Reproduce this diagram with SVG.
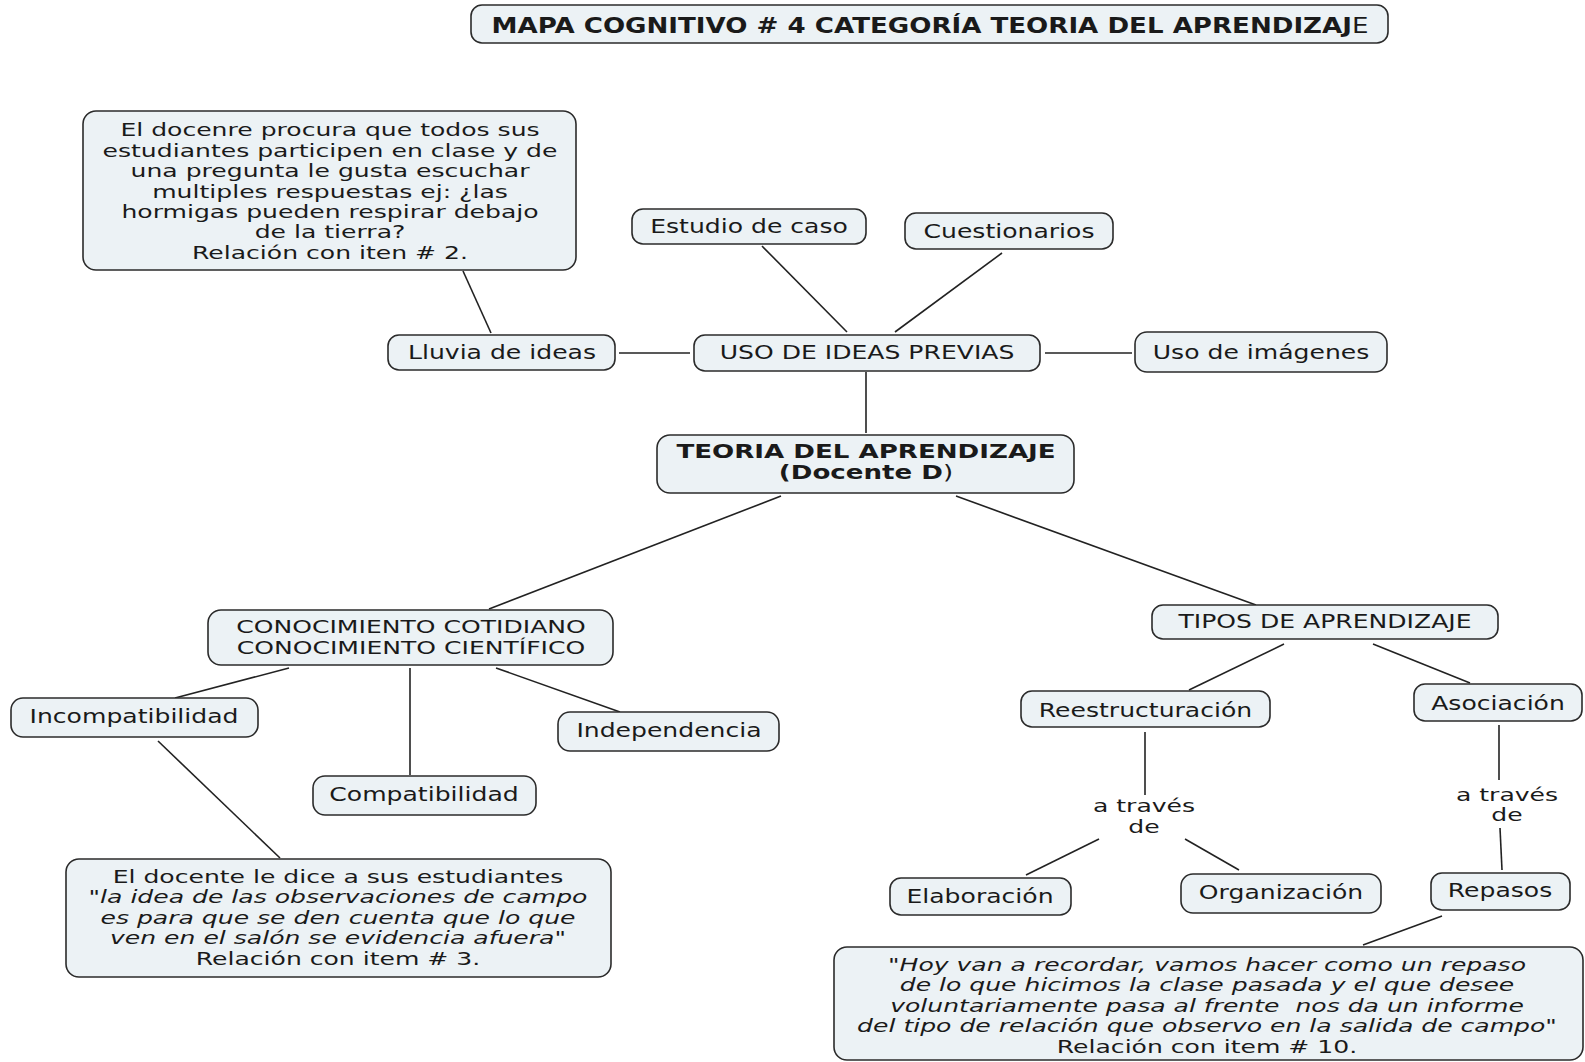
<svg xmlns="http://www.w3.org/2000/svg" width="1585" height="1062" viewBox="0 0 1585 1062">
  <style>
    .bg { fill: #ffffff; }
    .box { fill: #ecf2f5; stroke: #2b2b2b; stroke-width: 1.6; }
    .t { font-family: "DejaVu Sans", Verdana, sans-serif; font-size: 19.6px; fill: #1a1a1a; text-anchor: middle; }
    .m { font-size: 18.4px; }
    .b { font-weight: bold; font-size: 20.4px; }
    .bm { font-weight: bold; font-size: 19.2px; }
    .i { font-style: italic; }
    .r { font-weight: normal; }
    .links line { stroke: #222222; stroke-width: 1.6; }
  </style>

  <rect class="bg" x="0" y="0" width="1585" height="1062"/>

  <!-- connectors -->
  <g class="links" id="connectors">
    <line x1="463" y1="271" x2="491" y2="333"/>
    <line x1="619" y1="353" x2="690" y2="353"/>
    <line x1="1045" y1="353" x2="1132" y2="353"/>
    <line x1="762" y1="246" x2="847" y2="332"/>
    <line x1="1002" y1="253" x2="895" y2="332"/>
    <line x1="866" y1="372" x2="866" y2="433"/>
    <line x1="781" y1="496" x2="489" y2="609"/>
    <line x1="956" y1="496" x2="1256" y2="605"/>
    <line x1="289" y1="668" x2="175" y2="698"/>
    <line x1="410" y1="668" x2="410" y2="775"/>
    <line x1="496" y1="668" x2="620" y2="712"/>
    <line x1="158" y1="741" x2="280" y2="858"/>
    <line x1="1284" y1="644" x2="1189" y2="690"/>
    <line x1="1373" y1="644" x2="1470" y2="683"/>
    <line x1="1145" y1="732" x2="1145" y2="795"/>
    <line x1="1099" y1="839" x2="1026" y2="875"/>
    <line x1="1185" y1="839" x2="1239" y2="870"/>
    <line x1="1499" y1="725" x2="1499" y2="780"/>
    <line x1="1500" y1="828" x2="1502" y2="870"/>
    <line x1="1442" y1="916" x2="1363" y2="945"/>
  </g>

  <!-- title -->
  <g id="title">
    <rect class="box" x="471" y="5" width="917" height="38" rx="11"/>
    <text class="t b" transform="translate(930 0) scale(1.28 1)" x="0" y="33">MAPA COGNITIVO # 4 CATEGORÍA TEORIA DEL APRENDIZAJ<tspan class="r">E</tspan></text>
  </g>

  <!-- note on brainstorming -->
  <g id="nota-lluvia">
    <rect class="box" x="83" y="111" width="493" height="159" rx="13"/>
    <g class="t m" transform="translate(330 0) scale(1.363 1)">
      <text x="0" y="136.5">El docenre procura que todos sus</text>
      <text x="0" y="156.9">estudiantes participen en clase y de</text>
      <text x="0" y="177.3">una pregunta le gusta escuchar</text>
      <text x="0" y="197.7">multiples respuestas ej: ¿las</text>
      <text x="0" y="218.1">hormigas pueden respirar debajo</text>
      <text x="0" y="238.5">de la tierra?</text>
      <text x="0" y="258.9">Relación con iten # 2.</text>
    </g>
  </g>

  <g id="estudio-caso">
    <rect class="box" x="632" y="209" width="234" height="35" rx="11"/>
    <text class="t" transform="translate(749 0) scale(1.28 1)" x="0" y="233.5">Estudio de caso</text>
  </g>

  <g id="cuestionarios">
    <rect class="box" x="905" y="213" width="208" height="36" rx="11"/>
    <text class="t" transform="translate(1009 0) scale(1.28 1)" x="0" y="238">Cuestionarios</text>
  </g>

  <g id="lluvia-ideas">
    <rect class="box" x="388" y="335" width="227" height="35" rx="11"/>
    <text class="t" transform="translate(502 0) scale(1.28 1)" x="0" y="359.3">Lluvia de ideas</text>
  </g>

  <g id="uso-ideas-previas">
    <rect class="box" x="694" y="335" width="346" height="36" rx="11"/>
    <text class="t" transform="translate(867 0) scale(1.28 1)" x="0" y="359.3">USO DE IDEAS PREVIAS</text>
  </g>

  <g id="uso-imagenes">
    <rect class="box" x="1135" y="332" width="252" height="40" rx="12"/>
    <text class="t" transform="translate(1261 0) scale(1.28 1)" x="0" y="359.3">Uso de imágenes</text>
  </g>

  <g id="teoria-aprendizaje">
    <rect class="box" x="657" y="435" width="417" height="58" rx="13"/>
    <g class="t bm" transform="translate(866 0) scale(1.36 1)">
      <text x="0" y="458.5">TEORIA DEL APRENDIZAJE</text>
      <text x="0" y="479">(Docente D<tspan class="r">)</tspan></text>
    </g>
  </g>

  <g id="conocimiento">
    <rect class="box" x="208" y="610" width="405" height="55" rx="13"/>
    <g class="t m" transform="translate(411 0) scale(1.363 1)">
      <text x="0" y="633.5">CONOCIMIENTO COTIDIANO</text>
      <text x="0" y="653.9">CONOCIMIENTO CIENTÍFICO</text>
    </g>
  </g>

  <g id="incompatibilidad">
    <rect class="box" x="11" y="698" width="247" height="39" rx="12"/>
    <text class="t" transform="translate(134 0) scale(1.28 1)" x="0" y="723">Incompatibilidad</text>
  </g>

  <g id="compatibilidad">
    <rect class="box" x="313" y="776" width="223" height="39" rx="12"/>
    <text class="t" transform="translate(424 0) scale(1.28 1)" x="0" y="801.5">Compatibilidad</text>
  </g>

  <g id="independencia">
    <rect class="box" x="558" y="712" width="221" height="39" rx="12"/>
    <text class="t" transform="translate(669 0) scale(1.28 1)" x="0" y="737">Independencia</text>
  </g>

  <g id="nota-incompatibilidad">
    <rect class="box" x="66" y="859" width="545" height="118" rx="13"/>
    <g class="t m" transform="translate(338 0) scale(1.363 1)">
      <text x="0" y="883">El docente le dice a sus estudiantes</text>
      <text class="i" x="0" y="903.5">"la idea de las observaciones de campo</text>
      <text class="i" x="0" y="924">es para que se den cuenta que lo que</text>
      <text class="i" x="0" y="944.5">ven en el salón se evidencia afuera"</text>
      <text x="0" y="965">Relación con item # 3.</text>
    </g>
  </g>

  <g id="tipos-aprendizaje">
    <rect class="box" x="1152" y="605" width="346" height="34" rx="11"/>
    <text class="t" transform="translate(1325 0) scale(1.28 1)" x="0" y="628.5">TIPOS DE APRENDIZAJE</text>
  </g>

  <g id="reestructuracion">
    <rect class="box" x="1021" y="691" width="249" height="36" rx="11"/>
    <text class="t" transform="translate(1145.5 0) scale(1.28 1)" x="0" y="717">Reestructuración</text>
  </g>

  <g id="asociacion">
    <rect class="box" x="1414" y="684" width="168" height="37" rx="11"/>
    <text class="t" transform="translate(1498 0) scale(1.28 1)" x="0" y="710">Asociación</text>
  </g>

  <g id="a-traves-de-1">
    <g class="t m" transform="translate(1144 0) scale(1.363 1)">
      <text x="0" y="812.5">a través</text>
      <text x="0" y="832.9">de</text>
    </g>
  </g>

  <g id="a-traves-de-2">
    <g class="t m" transform="translate(1507 0) scale(1.363 1)">
      <text x="0" y="801">a través</text>
      <text x="0" y="821.4">de</text>
    </g>
  </g>

  <g id="elaboracion">
    <rect class="box" x="890" y="878" width="181" height="37" rx="11"/>
    <text class="t" transform="translate(980 0) scale(1.28 1)" x="0" y="903.5">Elaboración</text>
  </g>

  <g id="organizacion">
    <rect class="box" x="1181" y="874" width="200" height="39" rx="12"/>
    <text class="t" transform="translate(1281 0) scale(1.28 1)" x="0" y="899.5">Organización</text>
  </g>

  <g id="repasos">
    <rect class="box" x="1431" y="873" width="139" height="37" rx="11"/>
    <text class="t" transform="translate(1500 0) scale(1.28 1)" x="0" y="897.5">Repasos</text>
  </g>

  <g id="nota-repasos">
    <rect class="box" x="834" y="947" width="749" height="113" rx="13"/>
    <g class="t m" transform="translate(1207 0) scale(1.363 1)">
      <text class="i" x="0" y="971">"Hoy van a recordar, vamos hacer como un repaso</text>
      <text class="i" x="0" y="991.5">de lo que hicimos la clase pasada y el que desee</text>
      <text class="i" x="0" y="1012" style="white-space:pre">voluntariamente pasa al frente  nos da un informe</text>
      <text class="i" x="0" y="1032.5">del tipo de relación que observo en la salida de campo"</text>
      <text x="0" y="1053">Relación con item # 10.</text>
    </g>
  </g>
</svg>
